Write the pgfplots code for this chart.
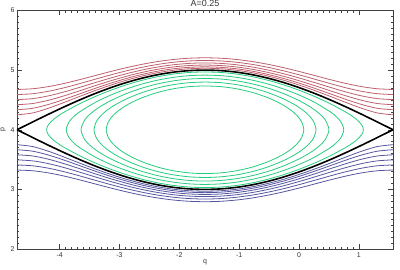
\documentclass[border=0pt]{standalone}
\usepackage{pgfplots}
\usepackage{pgfplotstable}
\usepackage{fontspec}
\setmainfont{Liberation Sans}
\pgfplotsset{compat=1.18}
\definecolor{cred}{RGB}{190,95,108}
\definecolor{cgreen}{RGB}{35,205,125}
\definecolor{cblue}{RGB}{85,85,160}

\pgfplotstableread{
q su r1 r2 r3 r4 r5 r6
-4.71239 4.00000 4.25000 4.33500 4.42000 4.50500 4.59000 4.67500
-4.45059 4.13053 4.28203 4.35954 4.43982 4.52160 4.60427 4.68751
-4.18879 4.25882 4.35985 4.42334 4.49335 4.56747 4.64428 4.72292
-3.92699 4.38268 4.45711 4.50860 4.56820 4.63362 4.70324 4.77594
-3.66519 4.50000 4.55902 4.60185 4.65299 4.71065 4.77337 4.84001
-3.40339 4.60876 4.65810 4.69485 4.73959 4.79096 4.84776 4.90896
-3.14159 4.70711 4.75000 4.78245 4.82244 4.86892 4.92092 4.97756
-2.87979 4.79335 4.83181 4.86118 4.89767 4.94045 4.98869 5.04165
-2.61799 4.86603 4.90139 4.92856 4.96249 5.00251 5.04790 5.09801
-2.35619 4.92388 4.95710 4.98274 5.01486 5.05289 5.09620 5.14419
-2.09440 4.96593 4.99775 5.02237 5.05329 5.08997 5.13186 5.17841
-1.83260 4.99144 5.02248 5.04651 5.07674 5.11265 5.15372 5.19941
-1.57080 5.00000 5.03078 5.05462 5.08462 5.12028 5.16108 5.20649
-1.30900 4.99144 5.02248 5.04651 5.07674 5.11265 5.15372 5.19941
-1.04720 4.96593 4.99775 5.02237 5.05329 5.08997 5.13186 5.17841
-0.78540 4.92388 4.95710 4.98274 5.01486 5.05289 5.09620 5.14419
-0.52360 4.86603 4.90139 4.92856 4.96249 5.00251 5.04790 5.09801
-0.26180 4.79335 4.83181 4.86118 4.89767 4.94045 4.98869 5.04165
0.00000 4.70711 4.75000 4.78245 4.82244 4.86892 4.92092 4.97756
0.26180 4.60876 4.65810 4.69485 4.73959 4.79096 4.84776 4.90896
0.52360 4.50000 4.55902 4.60185 4.65299 4.71065 4.77337 4.84001
0.78540 4.38268 4.45711 4.50860 4.56820 4.63362 4.70324 4.77594
1.04720 4.25882 4.35985 4.42334 4.49335 4.56747 4.64428 4.72292
1.30900 4.13053 4.28203 4.35954 4.43982 4.52160 4.60427 4.68751
1.57080 4.00000 4.25000 4.33500 4.42000 4.50500 4.59000 4.67500
}\uppertab

\pgfplotstableread{
q sl b1 b2 b3 b4 b5 b6
-4.71239 4.00000 3.75000 3.66500 3.58000 3.49500 3.41000 3.32500
-4.45059 3.86947 3.71797 3.64046 3.56018 3.47840 3.39573 3.31249
-4.18879 3.74118 3.64015 3.57666 3.50665 3.43253 3.35572 3.27708
-3.92699 3.61732 3.54289 3.49140 3.43180 3.36638 3.29676 3.22406
-3.66519 3.50000 3.44098 3.39815 3.34701 3.28935 3.22663 3.15999
-3.40339 3.39124 3.34190 3.30515 3.26041 3.20904 3.15224 3.09104
-3.14159 3.29289 3.25000 3.21755 3.17756 3.13108 3.07908 3.02244
-2.87979 3.20665 3.16819 3.13882 3.10233 3.05955 3.01131 2.95835
-2.61799 3.13397 3.09861 3.07144 3.03751 2.99749 2.95210 2.90199
-2.35619 3.07612 3.04290 3.01726 2.98514 2.94711 2.90380 2.85581
-2.09440 3.03407 3.00225 2.97763 2.94671 2.91003 2.86814 2.82159
-1.83260 3.00856 2.97752 2.95349 2.92326 2.88735 2.84628 2.80059
-1.57080 3.00000 2.96922 2.94538 2.91538 2.87972 2.83892 2.79351
-1.30900 3.00856 2.97752 2.95349 2.92326 2.88735 2.84628 2.80059
-1.04720 3.03407 3.00225 2.97763 2.94671 2.91003 2.86814 2.82159
-0.78540 3.07612 3.04290 3.01726 2.98514 2.94711 2.90380 2.85581
-0.52360 3.13397 3.09861 3.07144 3.03751 2.99749 2.95210 2.90199
-0.26180 3.20665 3.16819 3.13882 3.10233 3.05955 3.01131 2.95835
0.00000 3.29289 3.25000 3.21755 3.17756 3.13108 3.07908 3.02244
0.26180 3.39124 3.34190 3.30515 3.26041 3.20904 3.15224 3.09104
0.52360 3.50000 3.44098 3.39815 3.34701 3.28935 3.22663 3.15999
0.78540 3.61732 3.54289 3.49140 3.43180 3.36638 3.29676 3.22406
1.04720 3.74118 3.64015 3.57666 3.50665 3.43253 3.35572 3.27708
1.30900 3.86947 3.71797 3.64046 3.56018 3.47840 3.39573 3.31249
1.57080 4.00000 3.75000 3.66500 3.58000 3.49500 3.41000 3.32500
}\lowertab

\begin{document}
\begin{tikzpicture}
\begin{axis}[
  scale only axis,
  width=376bp, height=238.6bp,
  xmin=-4.71239, xmax=1.5708, ymin=2, ymax=6,
  xtick={-4,-3,-2,-1,0,1}, ytick={2,3,4,5,6},
  minor tick num=9,
  tick align=inside,
  major tick length=5bp, minor tick length=2.5bp,
  every tick/.style={black!75, line width=0.5pt},
  axis line style={black!75, line width=0.6pt},
  tick label style={font=\fontsize{7}{8}\selectfont, text=black!80},
  /pgf/number format/assume math mode=true,
  xticklabel style={yshift=-0.5bp},
  yticklabel style={xshift=1bp},
  xlabel={q}, ylabel={p},
  xlabel style={font=\fontsize{7}{8}\selectfont, text=black!80, yshift=5bp},
  ylabel style={font=\fontsize{7}{8}\selectfont, text=black!80, yshift=-2bp},
  title={A=0.25},
  title style={font=\fontsize{9}{10}\selectfont, text=black!80, yshift=-6bp},
  clip=true,
]
\foreach \c in {r1,r2,r3,r4,r5,r6}{
  \addplot[cred, line width=0.8pt, smooth] table[x=q, y=\c] {\uppertab};
}
\foreach \c in {b1,b2,b3,b4,b5,b6}{
  \addplot[cblue, line width=0.8pt, smooth] table[x=q, y=\c] {\lowertab};
}
\addplot[cgreen, line width=0.8pt, smooth] coordinates {
(-1.5708,4.96954) (-1.3090,4.96071) (-1.0472,4.93435) (-0.7854,4.89082) (-0.5236,4.83066) (-0.2618,4.75459) (0,4.66333) (0.2618,4.55731) (0.5236,4.43589) (0.7854,4.29402) (0.8727,4.23870) (0.9599,4.17443) (1.0472,4.08358) (1.0759,4)
(1.0472,3.91642) (0.9599,3.82557) (0.8727,3.76130) (0.7854,3.70598) (0.5236,3.56411) (0.2618,3.44269) (0,3.33667) (-0.2618,3.24541) (-0.5236,3.16934) (-0.7854,3.10918) (-1.0472,3.06565) (-1.3090,3.03929) (-1.5708,3.03046)
(-1.8326,3.03929) (-2.0944,3.06565) (-2.3562,3.10918) (-2.6180,3.16934) (-2.8798,3.24541) (-3.1416,3.33667) (-3.4034,3.44269) (-3.6652,3.56411) (-3.9270,3.70598) (-4.0143,3.76130) (-4.1015,3.82557) (-4.1888,3.91642) (-4.2175,4)
(-4.1888,4.08358) (-4.1015,4.17443) (-4.0143,4.23870) (-3.9270,4.29402) (-3.6652,4.43589) (-3.4034,4.55731) (-3.1416,4.66333) (-2.8798,4.75459) (-2.6180,4.83066) (-2.3562,4.89082) (-2.0944,4.93435) (-1.8326,4.96071) (-1.5708,4.96954)
};
\addplot[cgreen, line width=0.8pt, smooth] coordinates {
(-1.5708,4.91652) (-1.3090,4.90717) (-1.0472,4.87921) (-0.7854,4.83280) (-0.5236,4.76811) (-0.2618,4.68514) (0,4.58310) (0.2618,4.45890) (0.5236,4.3) (0.6109,4.23067) (0.6981,4.13640) (0.7478,4)
(0.6981,3.86360) (0.6109,3.76933) (0.5236,3.7) (0.2618,3.54110) (0,3.41690) (-0.2618,3.31486) (-0.5236,3.23189) (-0.7854,3.16720) (-1.0472,3.12079) (-1.3090,3.09283) (-1.5708,3.08348)
(-1.8326,3.09283) (-2.0944,3.12079) (-2.3562,3.16720) (-2.6180,3.23189) (-2.8798,3.31486) (-3.1416,3.41690) (-3.4034,3.54110) (-3.6652,3.7) (-3.7525,3.76933) (-3.8397,3.86360) (-3.8894,4)
(-3.8397,4.13640) (-3.7525,4.23067) (-3.6652,4.3) (-3.4034,4.45890) (-3.1416,4.58310) (-2.8798,4.68514) (-2.6180,4.76811) (-2.3562,4.83280) (-2.0944,4.87921) (-1.8326,4.90717) (-1.5708,4.91652)
};
\addplot[cgreen, line width=0.8pt, smooth] coordinates {
(-1.5708,4.86023) (-1.3090,4.85027) (-1.0472,4.82038) (-0.7854,4.77042) (-0.5236,4.7) (-0.2618,4.60779) (0,4.48990) (0.1745,4.39138) (0.2618,4.33255) (0.3491,4.26266) (0.4363,4.16938) (0.5006,4)
(0.4363,3.83062) (0.3491,3.73734) (0.2618,3.66745) (0.1745,3.60862) (0,3.51010) (-0.2618,3.39221) (-0.5236,3.3) (-0.7854,3.22958) (-1.0472,3.17962) (-1.3090,3.14973) (-1.5708,3.13977)
(-1.8326,3.14973) (-2.0944,3.17962) (-2.3562,3.22958) (-2.6180,3.3) (-2.8798,3.39221) (-3.1416,3.51010) (-3.3161,3.60862) (-3.4034,3.66745) (-3.4907,3.73734) (-3.5779,3.83062) (-3.6422,4)
(-3.5779,4.16938) (-3.4907,4.26266) (-3.4034,4.33255) (-3.3161,4.39138) (-3.1416,4.48990) (-2.8798,4.60779) (-2.6180,4.7) (-2.3562,4.77042) (-2.0944,4.82038) (-1.8326,4.85027) (-1.5708,4.86023)
};
\addplot[cgreen, line width=0.8pt, smooth] coordinates {
(-1.5708,4.8) (-1.3090,4.78928) (-1.0472,4.75698) (-0.7854,4.70253) (-0.5236,4.62450) (-0.2618,4.51905) (-0.0873,4.42846) (0,4.37417) (0.0873,4.31052) (0.1745,4.23060) (0.2443,4.13799) (0.2838,4)
(0.2443,3.86201) (0.1745,3.76940) (0.0873,3.68948) (0,3.62583) (-0.0873,3.57154) (-0.2618,3.48095) (-0.5236,3.37550) (-0.7854,3.29747) (-1.0472,3.24302) (-1.3090,3.21072) (-1.5708,3.2)
(-1.8326,3.21072) (-2.0944,3.24302) (-2.3562,3.29747) (-2.6180,3.37550) (-2.8798,3.48095) (-3.0543,3.57154) (-3.1416,3.62583) (-3.2289,3.68948) (-3.3161,3.76940) (-3.3859,3.86201) (-3.4254,4)
(-3.3859,4.13799) (-3.3161,4.23060) (-3.2289,4.31052) (-3.1416,4.37417) (-3.0543,4.42846) (-2.8798,4.51905) (-2.6180,4.62450) (-2.3562,4.70253) (-2.0944,4.75698) (-1.8326,4.78928) (-1.5708,4.8)
};
\addplot[cgreen, line width=0.8pt, smooth] coordinates {
(-1.5708,4.73485) (-1.3090,4.72316) (-1.0472,4.68776) (-0.7854,4.62734) (-0.5236,4.53852) (-0.3491,4.45936) (-0.2618,4.41159) (-0.1745,4.35613) (-0.0873,4.28910) (0,4.2) (0.0436,4.13487) (0.0801,4)
(0.0436,3.86513) (0,3.8) (-0.0873,3.71090) (-0.1745,3.64387) (-0.2618,3.58841) (-0.3491,3.54064) (-0.5236,3.46148) (-0.7854,3.37266) (-1.0472,3.31224) (-1.3090,3.27684) (-1.5708,3.26515)
(-1.8326,3.27684) (-2.0944,3.31224) (-2.3562,3.37266) (-2.6180,3.46148) (-2.7925,3.54064) (-2.8798,3.58841) (-2.9671,3.64387) (-3.0543,3.71090) (-3.1416,3.8) (-3.1852,3.86513) (-3.2217,4)
(-3.1852,4.13487) (-3.1416,4.2) (-3.0543,4.28910) (-2.9671,4.35613) (-2.8798,4.41159) (-2.7925,4.45936) (-2.6180,4.53852) (-2.3562,4.62734) (-2.0944,4.68776) (-1.8326,4.72316) (-1.5708,4.73485)
};
\addplot[black, line width=1.6pt, smooth] table[x=q, y=su] {\uppertab};
\addplot[black, line width=1.6pt, smooth] table[x=q, y=sl] {\lowertab};
\end{axis}
\pgfresetboundingbox
\useasboundingbox (-17bp,-20.95bp) rectangle (383bp,249.05bp);
\end{tikzpicture}
\end{document}
